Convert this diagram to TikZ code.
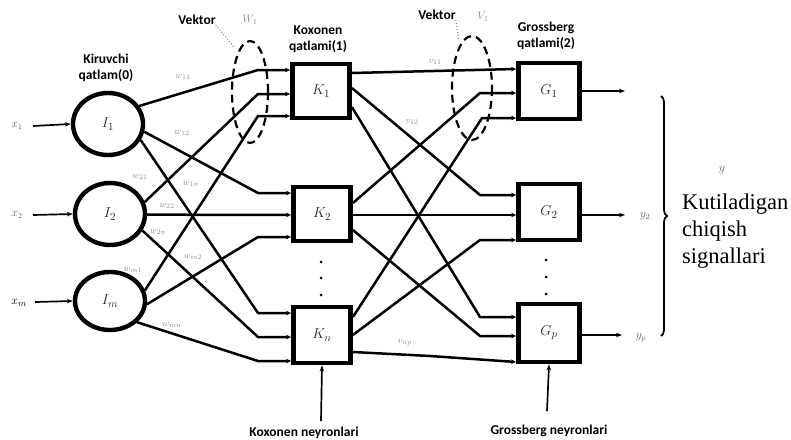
\documentclass[tikz,border=0pt]{standalone}
\usepackage{fontspec}
\setmainfont{Liberation Serif}
\newfontfamily\lbl{Carlito}
\usetikzlibrary{shapes.geometric,arrows.meta,decorations.pathreplacing}
\begin{document}
\begin{tikzpicture}[x=1pt,y=-1pt,
  neuron/.style={ellipse,draw,line width=4.4pt,minimum width=70pt,minimum height=62pt,inner sep=0pt},
  kunit/.style={rectangle,draw,line width=4.8pt,minimum width=57pt,minimum height=54pt,inner sep=0pt},
  gunit/.style={rectangle,draw,line width=4.8pt,minimum width=61pt,minimum height=56pt,inner sep=0pt},
  conn/.style={line width=2.5pt,line join=round},
  intip/.style={-{Stealth[length=5pt,width=4.5pt]}},
  sig/.style={line width=1.7pt,-{Stealth[length=6pt,width=4.5pt]}},
  wlab/.style={text=black!45,font=\itshape\fontsize{9.5}{10}\selectfont,inner sep=0pt},
  nlab/.style={font=\itshape\fontsize{15}{15}\selectfont,text=black!85},
  iolab/.style={text=black!60,font=\itshape\fontsize{12}{12}\selectfont,inner sep=0pt},
  ttl/.style={font=\lbl\bfseries\fontsize{13.5}{16}\selectfont,align=center,inner sep=0pt},
  vec/.style={line width=2.2pt,dash pattern=on 8pt off 5pt},
  leader/.style={line width=1pt,dotted,black!50},
  dotmark/.style={circle,fill=black,inner sep=0pt,minimum size=3pt}
]
\useasboundingbox (0,0) rectangle (791,439);

% input neurons
\node[neuron] (I1) at (108,124) {};
\node[neuron] (I2) at (110,214) {};
\node[neuron,minimum height=58pt] (Im) at (110,301) {};
\node[nlab] at (I1) {$I_1$};
\node[nlab] at (I2) {$I_2$};
\node[nlab] at (Im) {$I_m$};

% Kohonen units
\node[kunit] (K1) at (321,91) {};
\node[kunit] (K2) at (322,214) {};
\node[kunit,minimum height=56pt] (Kn) at (322,335) {};
\node[nlab] at (K1) {$K_1$};
\node[nlab] at (K2) {$K_2$};
\node[nlab] at (Kn) {$K_n$};

% Grossberg units
\node[gunit] (G1) at (549,91) {};
\node[gunit] (G2) at (549,212) {};
\node[gunit,minimum height=58pt] (Gp) at (549,333) {};
\node[nlab] at (G1) {$G_1$};
\node[nlab] at (G2) {$G_2$};
\node[nlab] at (Gp) {$G_p$};

% dots
\foreach \y [count=\i] in {262,278,295} \node[dotmark] (kd\i) at (321,\y) {};
\foreach \y [count=\i] in {260,277,294} \node[dotmark] (gd\i) at (546,\y) {};

% inputs
\coordinate (x1s) at (33,126);
\coordinate (x2s) at (33,215);
\coordinate (xms) at (35,302);
\draw[sig] (x1s) -- (I1.west);
\draw[sig] (x2s) -- (I2.west);
\draw[sig] (xms) -- (Im.west);
\node[iolab] (x1l) at (17,126) {$x_1$};
\node[iolab] (x2l) at (17,215) {$x_2$};
\node[iolab,text=black,font=\itshape\fontsize{13}{13}\selectfont] (xml) at (19,303) {$x_m$};

% input -> Kohonen
\draw[conn,intip] (I1.30)  -- (258,70)  -- (K1.west |- 0,70);
\draw[conn,intip] (I1.-12) -- (258,193) -- (K2.west |- 0,193);
\draw[conn,intip] (I1.-26) -- (258,313) -- (Kn.west |- 0,313);
\draw[conn,intip] (I2.19)  -- (258,94)  -- (K1.west |- 0,94);
\draw[conn,intip] (I2.-1)  -- (K2.west |- 0,215);
\draw[conn,intip] (I2.-27) -- (258,337) -- (Kn.west |- 0,337);
\draw[conn,intip] (Im.17)  -- (258,116) -- (K1.west |- 0,116);
\draw[conn,intip] (Im.-5)  -- (258,237) -- (K2.west |- 0,237);
\draw[conn,intip] (Im.-38) -- (258,361) -- (Kn.west |- 0,361);

% Kohonen -> Grossberg
\draw[conn,intip] (K1.east |- 0,73)  -- (G1.west |- 0,69);
\draw[conn,intip] (K1.east |- 0,88)  -- (480,195) -- (G2.west |- 0,195);
\draw[conn,intip] (K1.east |- 0,107) -- (480,317) -- (Gp.west |- 0,317);
\draw[conn,intip] (K2.east |- 0,203) -- (480,93)  -- (G1.west |- 0,93);
\draw[conn,intip] (K2.east |- 0,215) -- (G2.west |- 0,215);
\draw[conn,intip] (K2.east |- 0,230) -- (480,336) -- (Gp.west |- 0,336);
\draw[conn,intip] (Kn.east |- 0,317) -- (482,118) -- (G1.west |- 0,118);
\draw[conn,intip] (Kn.east |- 0,335) -- (480,240) -- (G2.west |- 0,240);
\draw[conn,intip] (Kn.east |- 0,352) -- (430,356) -- (Gp.west |- 0,362);

% outputs
\coordinate (y1e) at (625,91);
\coordinate (y2e) at (625,215);
\coordinate (ype) at (622,335);
\draw[sig] (G1.east |- y1e) -- (y1e);
\draw[sig] (G2.east |- y2e) -- (y2e);
\draw[sig] (Gp.east |- ype) -- (ype);
\node[iolab] (y2l) at (645,216) {$y_2$};
\node[iolab] (ypl) at (641,338) {$y_p$};

% brace and text
\draw[line width=1.8pt,decorate,decoration={brace,amplitude=6pt}] (661,96) -- (661,336);
\node[iolab] (yl) at (722,170) {$y$};
\node[align=left,font=\fontsize{22.5}{27}\selectfont,anchor=north west,inner sep=0pt] (out) at (682,194) {Kutiladigan\\chiqish\\signallari};

% vector ellipses
\draw[vec] (250,92) ellipse [x radius=18, y radius=51];
\draw[vec] (472,88) ellipse [x radius=20, y radius=52];
\node[ttl] (vk1) at (197,20) {Vektor};
\node[ttl] (vk2) at (437,15) {Vektor};
\coordinate (w1p) at (234,47);
\coordinate (v1p) at (459,41);
\draw[leader] (vk1.south east) -- (w1p);
\draw[leader] (vk2.south east) -- (v1p);
\node[wlab,font=\itshape\fontsize{11}{11}\selectfont] at (250,20) {$W_1$};
\node[wlab,font=\itshape\fontsize{11}{11}\selectfont] at (483,17) {$V_1$};

% layer titles
\node[ttl] (t0) at (106,68) {Kiruvchi\\qatlam(0)};
\node[ttl] (t1) at (318,39) {Koxonen\\qatlami(1)};
\node[ttl] (t2) at (546,36) {Grossberg\\qatlami(2)};

% bottom labels
\coordinate (kb) at (321,421);
\coordinate (gb) at (547,411);
\draw[sig] (kb) -- (Kn.south);
\draw[sig] (gb) -- (Gp.south);
\node[ttl] (kl) at (304,433) {Koxonen neyronlari};
\node[ttl] (gl) at (549,431) {Grossberg neyronlari};

% weight labels
\node[wlab] at (183,77) {$w_{11}$};
\node[wlab] at (182,133) {$w_{12}$};
\node[wlab] at (140,177) {$w_{21}$};
\node[wlab] at (191,184) {$w_{1n}$};
\node[wlab] at (167,206) {$w_{22}$};
\node[wlab] at (158,232) {$w_{2n}$};
\node[wlab] at (193,257) {$w_{m2}$};
\node[wlab] at (133,270) {$w_{m1}$};
\node[wlab] at (172,325) {$w_{mn}$};
\node[wlab] at (435,62) {$v_{11}$};
\node[wlab] at (412,122) {$v_{12}$};
\node[wlab] at (405,343) {$v_{np}$};
\end{tikzpicture}
\end{document}
